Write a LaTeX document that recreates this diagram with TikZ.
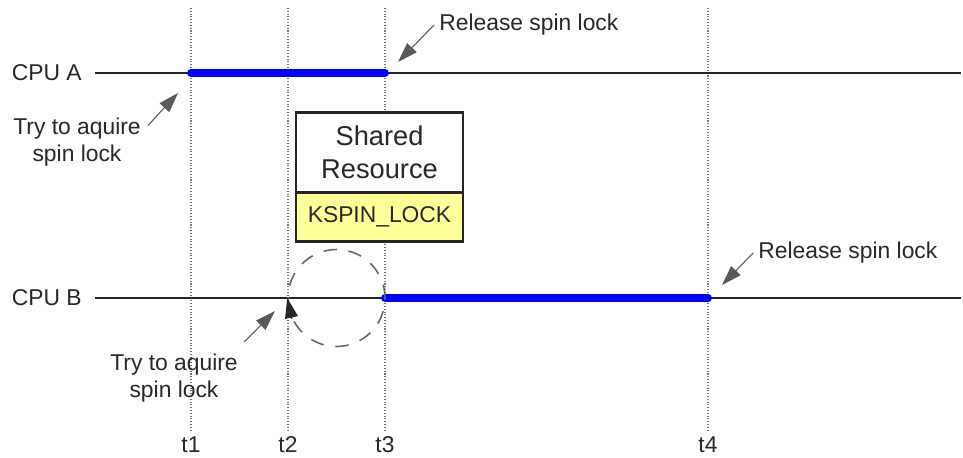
\documentclass[tikz,border=0pt]{standalone}
\usepackage{fontspec}
\setmainfont{Liberation Sans}
\usetikzlibrary{arrows.meta,positioning,calc}
\definecolor{lockyellow}{RGB}{255,255,153}
\definecolor{busyblue}{RGB}{0,0,255}
\definecolor{inkgrey}{RGB}{40,40,40}

\begin{document}
\begin{tikzpicture}[x=0.02cm, y=-0.02cm,
    lbl/.style={font=\fontsize{13}{15.5}\selectfont, text=inkgrey, align=center, inner sep=0.1cm},
    tick/.style={draw=black!55, densely dotted, line width=0.6pt},
    cpuline/.style={draw=black!85, line width=1.1pt},
    busy/.style={draw=busyblue, line width=4.5pt, line cap=round},
    ptr/.style={-{Triangle[length=0.4cm, width=0.26cm]}, draw=black!65, line width=0.6pt},
    resbox/.style={rectangle, draw=black!85, line width=1.4pt, fill=white,
        minimum width=3.34cm, minimum height=1.6cm, outer sep=0pt,
        font=\fontsize{15.5}{19}\selectfont, text=inkgrey, align=center},
    lockbox/.style={resbox, fill=lockyellow, minimum height=0.98cm,
        font=\fontsize{13}{15.5}\selectfont}
]
    \useasboundingbox (0,0) rectangle (963,457);

    % Time marks
    \foreach \x/\t in {191/1, 288/2, 385/3, 708/4} {
        \node[lbl] (t\t) at (\x,445) {t\t};
        \draw[tick] (\x,8) -- (t\t.north);
    }

    % CPU timelines
    \node[lbl, anchor=east] (cpuA) at (87,73) {CPU A};
    \node[lbl, anchor=east] (cpuB) at (87,298) {CPU B};
    \coordinate (a1) at (191,73);
    \coordinate (a3) at (385,73);
    \coordinate (b2) at (288,298);
    \coordinate (b3) at (385,298);
    \coordinate (b4) at (708,298);
    \draw[cpuline] ([xshift=0.16cm]cpuA.east) -- (961,73);
    \draw[cpuline] ([xshift=0.16cm]cpuB.east) -- (961,298);
    \draw[busy] (a1) -- (a3);
    \draw[busy] (b3) -- (b4);

    % Shared resource
    \node[resbox] (res) at (379.5,152.5) {Shared\\Resource};
    \node[lockbox, anchor=north] (lock) at (res.south) {KSPIN\_LOCK};

    % Spinning on CPU B
    \node[circle, draw=black!60, line width=0.9pt, dash pattern=on 0.27cm off 0.235cm,
        minimum size=1.94cm, inner sep=0pt] (spin) at (336.5,298) {};
    \draw[ptr, draw=black!85] (spin.205) -- (spin.west);

    % Annotations
    \node[lbl, anchor=west] (relA) at (434,25) {Release spin lock};
    \draw[ptr] (relA.west) -- ([shift={(13,-11)}]a3);
    \node[lbl, anchor=west] (relB) at (753,253) {Release spin lock};
    \draw[ptr] (relB.west) -- ([shift={(14,-13)}]b4);
    \node[lbl] (tryA) at (77,142) {Try to aquire\\spin lock};
    \draw[ptr] ([shift={(2,13)}]tryA.north east) -- ([shift={(-13,20)}]a1);
    \node[lbl] (tryB) at (174,378) {Try to aquire\\spin lock};
    \draw[ptr] ([shift={(70,-36)}]tryB.center) -- ([shift={(-13,13)}]b2);
\end{tikzpicture}
\end{document}
